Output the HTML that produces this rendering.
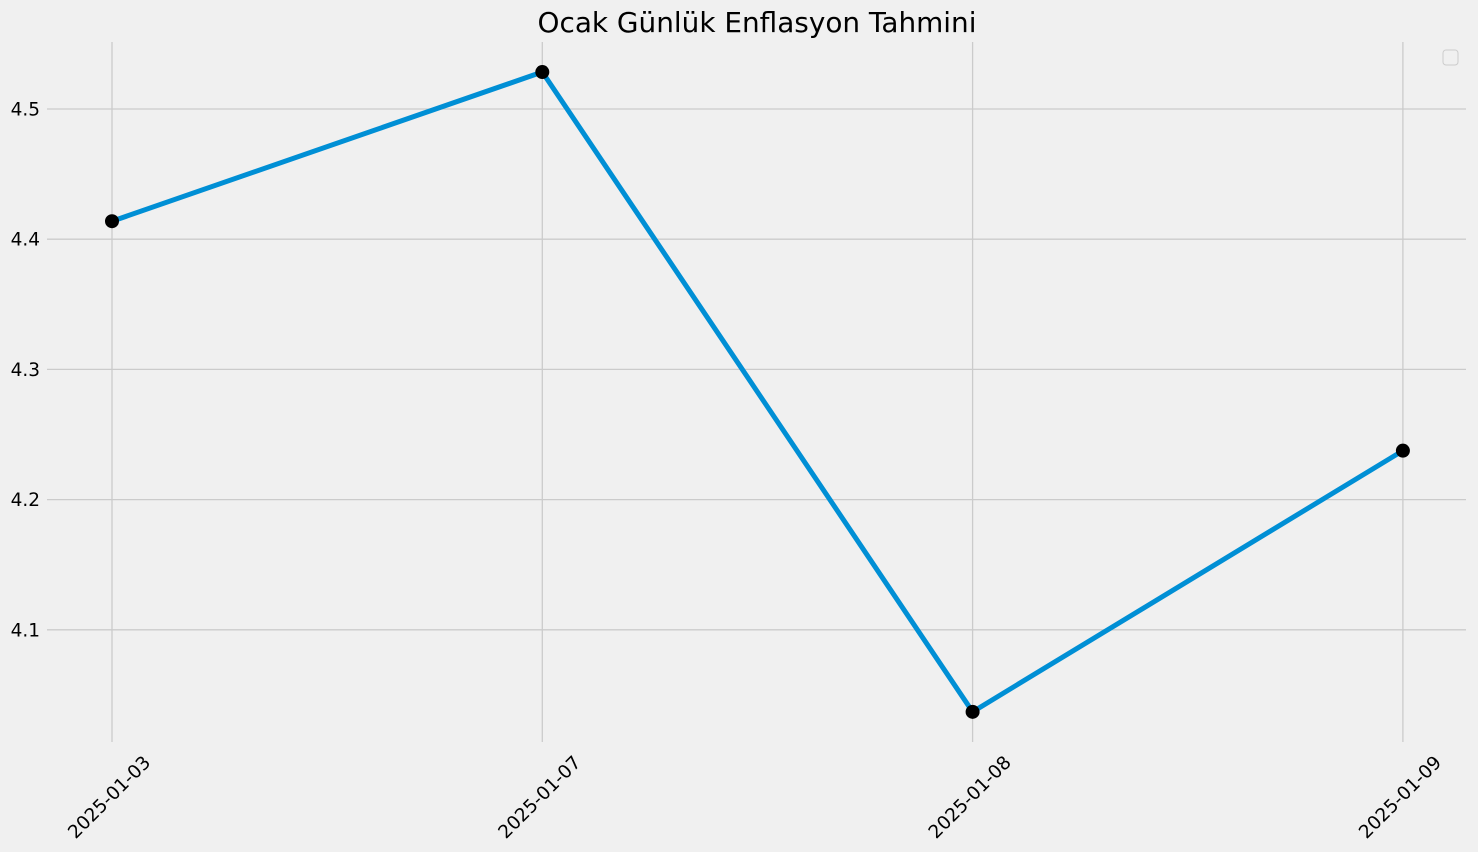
<!DOCTYPE html>
<html><head><meta charset="utf-8"><style>
html,body{margin:0;padding:0;background:#f0f0f0;}
svg{display:block;font-family:"DejaVu Sans","Liberation Sans",sans-serif;}
</style></head><body>
<svg id="chart" width="1478" height="852">
<rect width="1478" height="852" fill="#f0f0f0"/>
<text x="757" y="32" font-size="27.9" text-anchor="middle" fill="#000">Ocak Günlük Enflasyon Tahmini</text>
<g id="grid"></g>
<g id="series"></g>
<rect x="1443" y="50" width="15" height="15" rx="3" fill="#f0f0f0" stroke="#cccccc" stroke-width="1"/>
</svg>
<script>
const categories=["2025-01-03","2025-01-07","2025-01-08","2025-01-09"];
const values=[4.4138,4.5284,4.0370,4.2376];
const yTicks=[4.1,4.2,4.3,4.4,4.5];
const NS="http://www.w3.org/2000/svg";
const x0=112,dx=430.3;
function xs(i){return x0+i*dx;}
function ys(v){return 109+(4.5-v)*1302;}
const grid=document.getElementById('grid'),ser=document.getElementById('series');
function mk(t,a,p){const e=document.createElementNS(NS,t);for(const k in a)e.setAttribute(k,a[k]);p.appendChild(e);return e;}
yTicks.forEach(v=>{
 const l=mk('line',{x1:47,x2:1466,y1:ys(v),y2:ys(v),stroke:'#cbcbcb','stroke-width':1.3},grid);
 
 
 const t=mk('text',{x:40,y:ys(v)+6.5,'font-size':18.5,'text-anchor':'end',fill:'#000'},grid);
 t.textContent=v.toFixed(1);
 
 
});
categories.forEach((c,i)=>{
 const l=mk('line',{x1:xs(i),x2:xs(i),y1:42,y2:742,stroke:'#cbcbcb','stroke-width':1.3},grid);
 
 
 const cx=xs(i)-3,cy=797;
 const t=mk('text',{x:cx,y:cy+6.5,'font-size':18.5,'text-anchor':'middle',fill:'#000',transform:`rotate(-45 ${cx} ${cy})`},grid);
 t.textContent=c;
 
 
});
const pl=mk('polyline',{points:values.map((v,i)=>xs(i)+','+ys(v)).join(' '),fill:'none',stroke:'#008fd5','stroke-width':5,'stroke-linejoin':'round'},ser);


values.forEach((v,i)=>{
 const c=mk('circle',{cx:xs(i),cy:ys(v),r:7,fill:'#000'},ser);
 
 
});
</script>
</body></html>
